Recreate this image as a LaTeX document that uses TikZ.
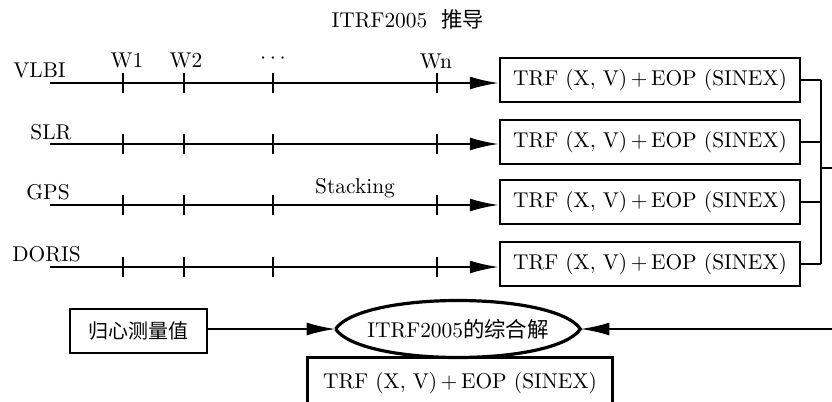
\documentclass[tikz,border=0pt]{standalone}
\usepackage{fontspec}
\newfontfamily\cjk{Noto Sans CJK SC}
\usetikzlibrary{arrows.meta}
\begin{document}
\begin{tikzpicture}[x=0.5pt,y=-0.5pt,
  every node/.style={font=\fontsize{10.7}{12}\selectfont, inner sep=0pt},
  line/.style={line width=1.15pt},
  arr/.style={line width=1.15pt,-{Latex[length=14.5pt,width=6.5pt]}},
  tick/.style={line width=1.15pt},
  trfbox/.style={draw,line width=1.15pt,minimum width=150pt,minimum height=22pt},
  lbl/.style={anchor=base west},
  wl/.style={anchor=base}]
\clip (0,0) rectangle (832,402);
\fill[white] (0,0) rectangle (832,402);
% title
\node[anchor=base] (title) at (408,27) {ITRF2005\ \ {\cjk 推导}};
% boxes
\node[trfbox] (b1) at (650,80) {TRF (X, V)\,+\,EOP (SINEX)};
\node[trfbox] (b2) at (650,142) {TRF (X, V)\,+\,EOP (SINEX)};
\node[trfbox] (b3) at (650,202) {TRF (X, V)\,+\,EOP (SINEX)};
\node[trfbox] (b4) at (650,264) {TRF (X, V)\,+\,EOP (SINEX)};
% line starts
\coordinate (s1) at (50,83);
\coordinate (s2) at (50,144);
\coordinate (s3) at (50,205);
\coordinate (s4) at (50,267);
% labels
\node[lbl] (l1) at (13,77) {VLBI};
\node[lbl] (l2) at (30,139) {SLR};
\node[lbl] (l3) at (26,199) {GPS};
\node[lbl] (l4) at (12,261) {DORIS};
\node[wl] (w1) at (127,67) {W1};
\node[wl] (w2) at (186,67) {W2};
\node[wl] (wd) at (273,63) {$\cdots$};
\node[wl] (wn) at (436,68) {Wn};
\node[wl] (stk) at (355,193) {Stacking};
% arrows
\foreach \s/\b in {s1/b1,s2/b2,s3/b3,s4/b4}{
  \draw[arr] (\s) -- (\s -| \b.west);
}
% ticks
\foreach \s in {s1,s2,s3,s4}{
  \foreach \x in {123,184,273,437}{
    \draw[tick] ([yshift=5pt]\s -| \x,0) -- ([yshift=-5pt]\s -| \x,0);
  }
}
% bracket
\coordinate (br1) at (821,80);
\coordinate (br4) at (821,264);
\coordinate (brm) at (821,168);
\coordinate (edge1) at (834,168);
\foreach \b in {b1,b2,b3,b4}{
  \draw[line] (\b.east) -- (\b.east -| br1);
}
\draw[line] (br1) -- (br4);
\draw[line] (brm) -- (edge1);
% bottom
\node[draw,line width=1.15pt,minimum width=68.5pt,minimum height=22pt,font=\cjk\fontsize{10}{12}\selectfont] (cent) at (138.5,331) {归心测量值};
\node[minimum width=122pt,minimum height=28pt] (sol) at (458,329) {ITRF2005{\cjk 的综合解}};
\draw[line width=1.6pt] (sol.west) .. controls +(26,-38) and +(-26,-38) .. (sol.east)
  .. controls +(-26,38) and +(26,38) .. (sol.west);
\coordinate (edge2) at (834,329);
\draw[arr] (edge2) -- (sol.east);
\draw[arr] (cent.east |- sol.west) -- (sol.west);
\node[minimum width=152pt,minimum height=30pt] (fin) at (460,388) {};
\draw[line] (fin.south west) -- (fin.north west) -- (fin.north east) -- (fin.south east);
\node[anchor=center] (fint) at (460,383) {TRF (X, V)\,+\,EOP (SINEX)};
\end{tikzpicture}
\end{document}
